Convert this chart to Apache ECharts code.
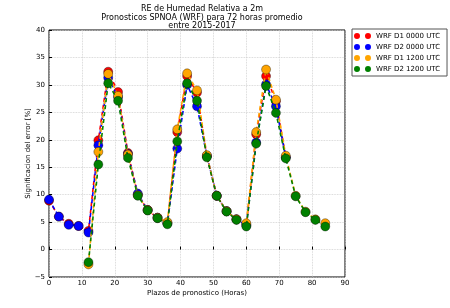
<!DOCTYPE html>
<html>
<head>
<meta charset="utf-8">
<title>RE de Humedad Relativa a 2m</title>
<script src="https://cdn.jsdelivr.net/npm/echarts@6/dist/echarts.min.js"></script>
<style>
  html, body { margin: 0; padding: 0; background: #fff; }
  #chart { width: 450px; height: 308px; }
</style>
</head>
<body>
<div id="chart"></div>
<script>
// forecast hours
var hours00 = [0, 3, 6, 9, 12, 15, 18, 21, 24, 27, 30, 33, 36, 39, 42, 45, 48, 51, 54, 57, 60, 63, 66, 69, 72];
var hours12 = [12, 15, 18, 21, 24, 27, 30, 33, 36, 39, 42, 45, 48, 51, 54, 57, 60, 63, 66, 69, 72, 75, 78, 81, 84];

var d1_00 = [8.9, 6.0, 4.7, 4.3, 3.4, 19.9, 32.4, 28.7, 17.6, 10.0, 7.2, 5.8, 4.8, 21.4, 31.6, 28.6, 17.0, 9.8, 7.0, 5.5, 4.5, 21.0, 31.6, 27.0, 16.8];
var d2_00 = [9.1, 6.0, 4.5, 4.3, 3.1, 19.0, 31.3, 27.8, 17.4, 10.2, 7.2, 5.8, 4.8, 18.4, 30.0, 26.1, 17.1, 9.8, 7.0, 5.5, 4.4, 19.5, 30.1, 26.1, 16.8];
var d1_12 = [-2.7, 17.8, 32.0, 28.0, 17.3, 9.9, 7.2, 5.8, 5.0, 21.9, 32.1, 29.0, 17.2, 9.8, 7.0, 5.5, 4.8, 21.4, 32.8, 27.3, 17.1, 9.8, 6.9, 5.5, 4.8];
var d2_12 = [-2.3, 15.5, 30.3, 27.1, 16.7, 9.8, 7.1, 5.7, 4.6, 19.7, 30.3, 27.1, 16.8, 9.8, 6.9, 5.4, 4.2, 19.3, 29.8, 24.9, 16.6, 9.7, 6.8, 5.4, 4.2];

var names = ['WRF D1 0000 UTC', 'WRF D2 0000 UTC', 'WRF D1 1200 UTC', 'WRF D2 1200 UTC'];
var colors = ['#ff0000', '#0000ff', '#ffa500', '#008000'];

function pairs(xs, ys) {
  return xs.map(function (x, i) { return [x, ys[i]]; });
}

var seriesData = [pairs(hours00, d1_00), pairs(hours00, d2_00), pairs(hours12, d1_12), pairs(hours12, d2_12)];

var font = 'DejaVu Sans';
// legend shows two markers per entry, like matplotlib numpoints=2
var twoDots = 'path://M0,3a3,3 0 1,0 6,0a3,3 0 1,0 -6,0M11,3a3,3 0 1,0 6,0a3,3 0 1,0 -6,0';

var chart = echarts.init(document.getElementById('chart'), null, { renderer: 'canvas' });
chart.setOption({
  animation: false,
  backgroundColor: '#fff',
  textStyle: { fontFamily: font },
  title: {
    text: 'RE de Humedad Relativa a 2m\nPronosticos SPNOA (WRF) para 72 horas promedio\nentre 2015-2017',
    left: 197,
    textAlign: 'center',
    top: 0,
    textStyle: { fontFamily: font, fontSize: 8, fontWeight: 'normal', color: '#000', lineHeight: 8.5 }
  },
  legend: {
    orient: 'vertical',
    left: 352,
    top: 29,
    padding: [3, 7, 3, 2],
    itemGap: 3,
    itemWidth: 17,
    itemHeight: 6,
    icon: twoDots,
    itemStyle: { borderWidth: 0 },
    borderColor: '#555',
    borderWidth: 1,
    backgroundColor: '#fff',
    data: names,
    textStyle: { fontFamily: font, fontSize: 7, color: '#000', lineHeight: 8 }
  },
  grid: {
    left: 49, right: 105, top: 30, bottom: 31,
    show: true, borderColor: '#000', borderWidth: 1, backgroundColor: 'transparent'
  },
  xAxis: {
    type: 'value', min: 0, max: 90, interval: 10,
    name: 'Plazos de pronostico (Horas)',
    nameLocation: 'middle', nameGap: 13, nameMoveOverlap: false,
    nameTextStyle: { fontFamily: font, fontSize: 7, color: '#000' },
    axisLine: { show: false },
    axisTick: { show: true, inside: true, length: 3, lineStyle: { color: '#000' } },
    axisLabel: { fontFamily: font, fontSize: 7, color: '#000', margin: 3 },
    splitLine: { show: true, lineStyle: { color: '#cccccc', type: 'dotted', width: 0.8 } }
  },
  yAxis: {
    type: 'value', min: -5, max: 40, interval: 5,
    name: 'Significacion del error [%]',
    nameLocation: 'middle', nameGap: 17, nameRotate: 90, nameMoveOverlap: false,
    nameTextStyle: { fontFamily: font, fontSize: 7, color: '#000' },
    axisLine: { show: false },
    axisTick: { show: true, inside: true, length: 3, lineStyle: { color: '#000' } },
    axisLabel: { fontFamily: font, fontSize: 7, color: '#000', margin: 4,
      formatter: function (v) { return v < 0 ? '\u2212' + Math.abs(v) : v; } },
    splitLine: { show: true, lineStyle: { color: '#cccccc', type: 'dotted', width: 0.8 } }
  },
  series: names.map(function (n, i) {
    return {
      name: n,
      type: 'line',
      data: seriesData[i],
      symbol: 'circle',
      symbolSize: 9,
      z: 2 + i,
      lineStyle: { color: colors[i], width: 1.6, type: [4, 3] },
      itemStyle: { color: colors[i], borderColor: 'rgba(0,0,0,0.45)', borderWidth: 0.8 }
    };
  })
});
</script>
</body>
</html>
